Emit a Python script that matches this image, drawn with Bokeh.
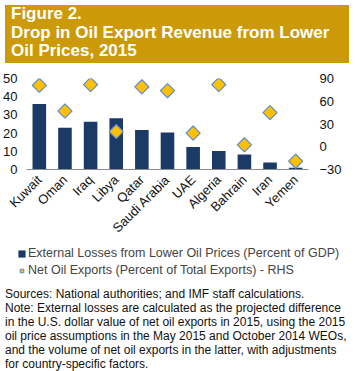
import numpy as np
from bokeh.plotting import figure
from bokeh.models import (FactorRange, Range1d, LinearAxis, Legend, LegendItem,
                          Div, FixedTicker, ColumnDataSource)
from bokeh.layouts import column, row
from bokeh.embed import file_html
from bokeh.resources import INLINE

countries = ["Kuwait", "Oman", "Iraq", "Libya", "Qatar", "Saudi Arabia",
             "UAE", "Algeria", "Bahrain", "Iran", "Yemen"]
external_losses = [36.0, 23.0, 26.2, 28.2, 21.7, 20.3, 12.3, 10.2, 8.3, 3.8, 1.0]
net_oil_exports = [81, 47, 82, 20, 79, 74, 18, 82, 2.5, 45, -19]
left_ticks = [0, 10, 20, 30, 40, 50]
right_ticks = [-30, 0, 30, 60, 90]

title_lines = ["Figure 2.", "Drop in Oil Export Revenue from Lower", "Oil Prices, 2015"]
legend_labels = ["External Losses from Lower Oil Prices (Percent of GDP)",
                 "Net Oil Exports (Percent of Total Exports) - RHS"]
note_lines = [
    "Sources: National authorities; and IMF staff calculations.",
    "Note: External losses are calculated as the projected difference",
    "in the U.S. dollar value of net oil exports in 2015, using the 2015",
    "oil price assumptions in the May 2015 and October 2014 WEOs,",
    "and the volume of net oil exports in the latter, with adjustments",
    "for country-specific factors.",
]

FONT = "Liberation Sans"
BAR_COLOR = "#1B3A66"
DIA_FILL = "#FFC000"
DIA_LINE = "#5B8BD0"

title = Div(
    text=('<div style="background:#CC9A06;color:white;font-family:\'Liberation Sans\',Arial;'
          'font-weight:bold;font-size:17px;line-height:18.5px;padding:0px 6px;box-sizing:border-box;'
          'width:344px;height:58px;white-space:nowrap;">' + "<br>".join(title_lines) + '</div>'),
    width=344, height=58)

src = ColumnDataSource(dict(c=countries, loss=external_losses, net=net_oil_exports))

p = figure(x_range=FactorRange(*countries, range_padding=0), y_range=Range1d(0, 50),
           width=344, height=175, output_backend="svg", toolbar_location=None,
           min_border_left=21, min_border_right=30, min_border_top=10, min_border_bottom=74)
p.extra_y_ranges = {"rhs": Range1d(-30, 90)}
p.outline_line_color = None
p.xgrid.grid_line_color = None
p.ygrid.grid_line_color = None

p.vbar(x="c", top="loss", width=0.53, source=src, fill_color=BAR_COLOR, line_color=None)
p.scatter(x="c", y="net", source=src, y_range_name="rhs", marker="square",
          angle=np.pi / 4, size=10, fill_color=DIA_FILL, line_color=DIA_LINE, line_width=1.2)

yl = p.yaxis[0]
yl.ticker = FixedTicker(ticks=left_ticks)
yr = LinearAxis(y_range_name="rhs", ticker=FixedTicker(ticks=right_ticks))
p.add_layout(yr, "right")
for ax in (yl, yr):
    ax.axis_line_color = None
    ax.major_tick_line_color = None
    ax.minor_tick_line_color = None
    ax.major_label_text_font = FONT
    ax.major_label_text_font_size = "13px"
    ax.major_label_text_color = "#111111"
yl.major_label_standoff = 3
yr.major_label_standoff = 5

xa = p.xaxis[0]
xa.major_label_orientation = np.pi / 4
xa.axis_line_color = "#8c8c8c"
xa.major_tick_line_color = None
xa.minor_tick_line_color = None
xa.major_label_text_font = FONT
xa.major_label_text_font_size = "13px"
xa.major_label_text_color = "#111111"
xa.major_label_standoff = 2

# legend panel: same series, drawn out of view so only the legend keys show
lg = figure(width=344, height=35, x_range=FactorRange(*countries, range_padding=0),
            y_range=Range1d(500, 501), output_backend="svg", toolbar_location=None,
            min_border=0, x_axis_type=None, y_axis_type=None)
lg.outline_line_color = None
lg.xgrid.grid_line_color = None
lg.ygrid.grid_line_color = None
kb = lg.vbar(x="c", top="loss", width=0.53, source=src, fill_color=BAR_COLOR, line_color=None)
kd = lg.scatter(x="c", y="net", source=src, marker="square", angle=np.pi / 4, size=10,
                fill_color=DIA_FILL, line_color=DIA_LINE, line_width=1.0)
legend = Legend(items=[LegendItem(label=legend_labels[0], renderers=[kb]),
                       LegendItem(label=legend_labels[1], renderers=[kd])],
                orientation="vertical", location=(17, 1),
                label_text_font=FONT, label_text_font_size="12.5px",
                glyph_width=9, glyph_height=9, spacing=3, padding=0, margin=0,
                label_standoff=2, border_line_color=None, background_fill_alpha=0)
lg.add_layout(legend, "center")

notes = Div(
    text=('<div style="font-family:\'Liberation Sans\',Arial;font-size:12px;line-height:14px;'
          'padding-top:4px;color:#111;white-space:nowrap;">' + "<br>".join(note_lines) + '</div>'),
    width=344, height=88)

layout = column(title, p, row(lg), notes, spacing=0)
open("out.html", "w").write(file_html(layout, INLINE))
